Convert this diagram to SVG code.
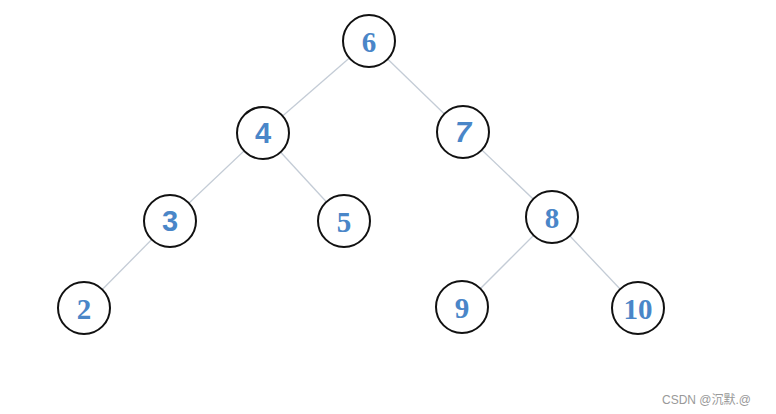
<svg xmlns="http://www.w3.org/2000/svg" width="776" height="414" viewBox="0 0 776 414">
<style>
.edge{stroke:#c4ccd6;stroke-width:1.3;fill:none}
.node circle{fill:#fff;stroke:#111;stroke-width:2}
.node text{fill:#4a86c8;font-size:29px;font-weight:bold;text-anchor:middle;dominant-baseline:central}
.serif{font-family:"Liberation Serif","Times New Roman",serif}
.sans{font-family:"Liberation Sans",Arial,sans-serif;font-weight:normal}
.wm{fill:#999;font-size:12px;font-family:"Liberation Sans","Noto Sans CJK SC",sans-serif}
</style>
<rect width="776" height="414" fill="#fff"/>
<g id="connectors">
<line class="edge" x1="369" y1="41" x2="263" y2="133"/>
<line class="edge" x1="369" y1="41" x2="463" y2="132"/>
<line class="edge" x1="263" y1="133" x2="170" y2="221"/>
<line class="edge" x1="263" y1="133" x2="344" y2="221"/>
<line class="edge" x1="463" y1="132" x2="552" y2="217"/>
<line class="edge" x1="170" y1="221" x2="84" y2="308"/>
<line class="edge" x1="552" y1="217" x2="462" y2="307"/>
<line class="edge" x1="552" y1="217" x2="638" y2="308"/>
</g>
<g id="n6" class="node"><circle cx="369" cy="41" r="26"/><text class="serif" x="369" y="42">6</text></g>
<g id="n4" class="node"><circle cx="263" cy="133" r="26"/><text class="sans" x="263" y="133">4</text></g>
<g id="n7" class="node"><circle cx="463" cy="132" r="26"/><text class="sans" x="463" y="132" font-style="italic">7</text></g>
<g id="n3" class="node"><circle cx="170" cy="221" r="26"/><text class="sans" x="170" y="221">3</text></g>
<g id="n5" class="node"><circle cx="344" cy="221" r="26"/><text class="serif" x="344" y="222">5</text></g>
<g id="n8" class="node"><circle cx="552" cy="217" r="26"/><text class="serif" x="552" y="218">8</text></g>
<g id="n2" class="node"><circle cx="84" cy="308" r="26"/><text class="serif" x="84" y="309">2</text></g>
<g id="n9" class="node"><circle cx="462" cy="307" r="26"/><text class="serif" x="462" y="308">9</text></g>
<g id="n10" class="node"><circle cx="638" cy="308" r="26"/><text class="serif" x="638" y="309">10</text></g>
<text class="wm" x="662" y="404">CSDN @沉默.@</text>
</svg>
